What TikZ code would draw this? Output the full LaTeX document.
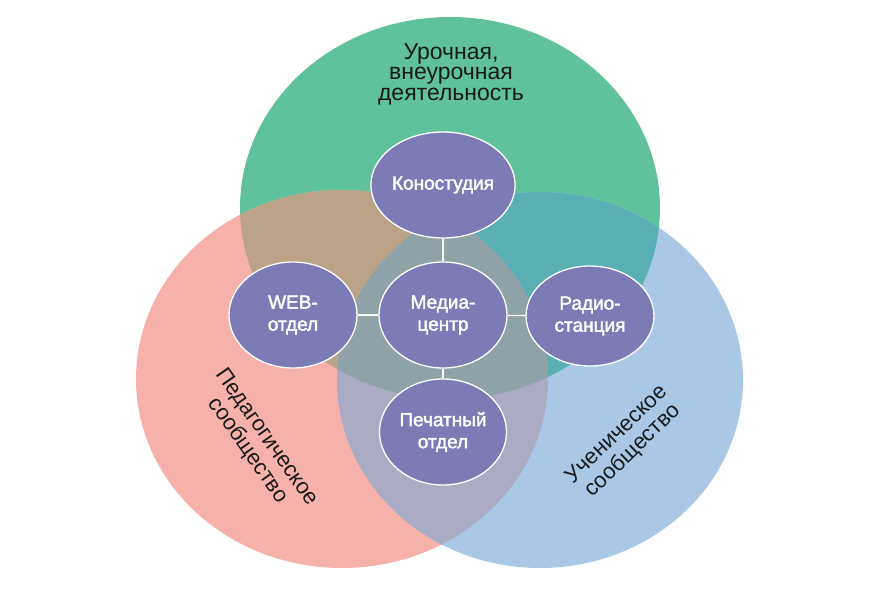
\documentclass[tikz,border=0pt]{standalone}
\usepackage{fontspec}
\setmainfont{Liberation Sans}
\newfontfamily\semib[FakeBold=2]{Liberation Sans}
\usetikzlibrary{shapes.geometric}
\definecolor{cgreen}{RGB}{95,194,156}
\definecolor{cred}{RGB}{246,178,170}
\definecolor{cblue}{RGB}{169,200,230}
\definecolor{cbrown}{RGB}{186,163,134}
\definecolor{cteal}{RGB}{90,175,181}
\definecolor{clav}{RGB}{171,171,196}
\definecolor{cmid}{RGB}{143,162,168}
\definecolor{cnode}{RGB}{124,123,182}
\definecolor{ctext}{RGB}{25,25,25}
\tikzset{
  unit/.style={ellipse, fill=cnode, draw=white, line width=1.3pt, inner sep=0pt,
    text=white, font=\semib\fontsize{19}{22}\selectfont, align=center},
  link/.style={draw=white, line width=1.3pt},
  biglabel/.style={text=ctext, align=center, inner sep=0pt}
}
\begin{document}
\begin{tikzpicture}[x=1pt,y=-1pt]
\useasboundingbox (0,0) rectangle (877,591);
\def\G{(450,208) ellipse [x radius=210, y radius=191]}
\def\R{(342,379) ellipse [x radius=206, y radius=189]}
\def\B{(540,380) ellipse [x radius=203, y radius=188]}
\fill[cgreen] \G;
\fill[cred] \R;
\fill[cblue] \B;
\begin{scope}\clip \G; \fill[cbrown] \R; \end{scope}
\begin{scope}\clip \G; \fill[cteal] \B; \end{scope}
\begin{scope}\clip \R; \fill[clav] \B; \end{scope}
\begin{scope}\clip \G; \clip \R; \fill[cmid] \B; \end{scope}

\node[biglabel, font=\fontsize{23}{20.5}\selectfont] (top) at (451,74)
  {Урочная,\\внеурочная\\деятельность};
\node[biglabel, rotate=-55, font=\fontsize{22}{23}\selectfont] (ped) at (257,444)
  {Педагогическое\\сообщество};
\node[biglabel, rotate=44, font=\fontsize{22}{23}\selectfont] (uch) at (625,443)
  {Ученическое\\сообщество};

\node[unit, minimum width=127pt, minimum height=106pt] (kino) at (443,185) {Коностудия};
\node[unit, minimum width=128pt, minimum height=106pt] (media) at (443,315) {Медиа-\\центр};
\node[unit, minimum width=128pt, minimum height=106pt] (web) at (293,315) {WEB-\\отдел};
\node[unit, minimum width=128pt, minimum height=100pt] (radio) at (590,316) {Радио-\\станция};
\node[unit, minimum width=127pt, minimum height=106pt] (print) at (443,432) {Печатный\\отдел};

\draw[link] (kino) -- (media);
\draw[link] (media) -- (print);
\draw[link] (web) -- (media);
\draw[link] (media) -- (radio);
\end{tikzpicture}
\end{document}
